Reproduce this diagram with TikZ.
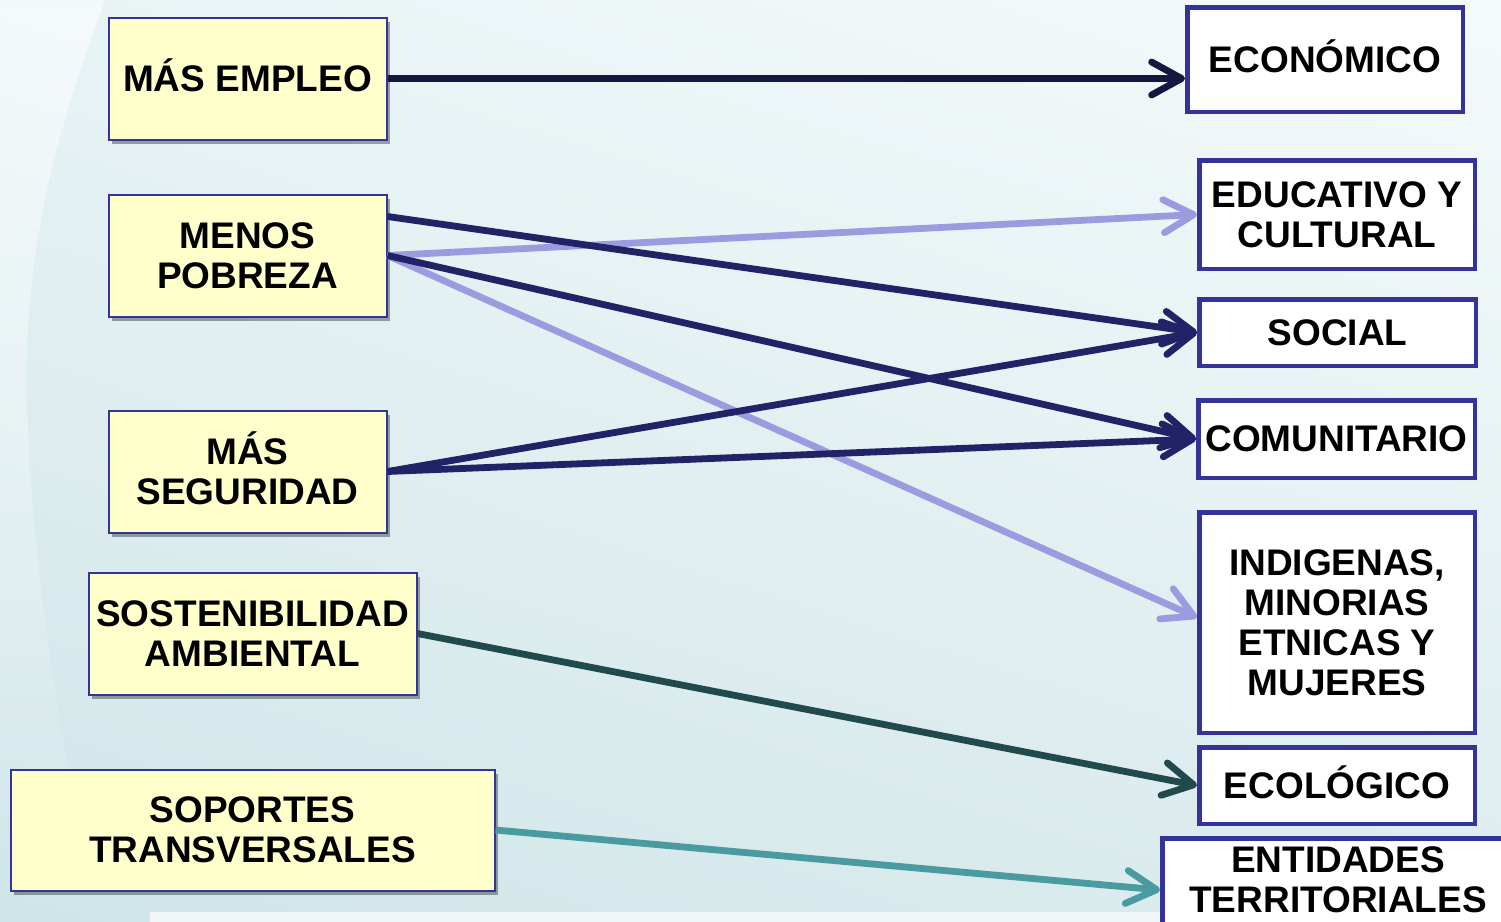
\documentclass[tikz,border=0pt]{standalone}
\usepackage{fontspec}
\setmainfont{Liberation Sans}
\usetikzlibrary{arrows.meta,shadows,calc,fadings,shadings}
\definecolor{bgUL}{HTML}{E8F3F5}
\definecolor{bgUR}{HTML}{F5FAFB}
\definecolor{bgLL}{HTML}{CFE5E8}
\definecolor{bgLR}{HTML}{DCECEE}
\definecolor{strip}{HTML}{F1F7F8}
\definecolor{boxfill}{HTML}{FFFFCC}
\definecolor{boxborder}{HTML}{333399}
\definecolor{navyD}{HTML}{16163F}
\definecolor{navy}{HTML}{222266}
\definecolor{lilac}{HTML}{9D9BDF}
\definecolor{tealD}{HTML}{214A4D}
\definecolor{tealL}{HTML}{4A9BA0}
\newcommand{\accfix}{\rule[-3pt]{0pt}{0pt}}
\begin{document}
\begin{tikzpicture}[x=0.5pt,y=-0.5pt,
  txt/.style={font=\fontsize{18.5}{20}\selectfont\bfseries, align=center, text=black, inner sep=0pt},
  srcbox/.style={txt, rectangle, draw=boxborder, line width=1pt, fill=boxfill,
    drop shadow={shadow xshift=1.6pt, shadow yshift=-2.2pt, fill=black, opacity=0.35}},
  dstbox/.style={txt, rectangle, draw=boxborder, line width=2.25pt, fill=white},
  link/.style={line width=3.4pt, -{Straight Barb[round,length=15pt,width=16.5pt]}},
]
\useasboundingbox (0,0) rectangle (1501,922);
\clip (0,0) rectangle (1501,922);
% background
\shade[upper left=bgUL, upper right=bgUR, lower left=bgLL, lower right=bgLR] (0,0) rectangle (1501,922);
\fill[white, opacity=0.55, path fading=south] (0,0) -- (105,0) .. controls (60,120) and (22,250) .. (27,400) .. controls (33,600) and (70,800) .. (105,922) -- (0,922) -- cycle;
\fill[strip] (150,912) rectangle (1501,922);

% source boxes
\node[srcbox, minimum width=139pt, minimum height=61pt] (emp) at (247.5,78.5) {MÁS EMPLEO\accfix};
\node[srcbox, minimum width=139pt, minimum height=61pt] (pob) at (247.5,255.5) {MENOS\\POBREZA};
\node[srcbox, minimum width=139pt, minimum height=61pt] (seg) at (247.5,471.5) {MÁS\\SEGURIDAD\accfix};
\node[srcbox, minimum width=164pt, minimum height=61pt] (sos) at (252.5,633.5) {SOSTENIBILIDAD\\AMBIENTAL};
\node[srcbox, minimum width=242pt, minimum height=60.5pt] (sop) at (252.5,830) {SOPORTES\\TRANSVERSALES};

% target boxes
\node[dstbox, minimum width=137.75pt, minimum height=52.25pt] (eco) at (1325,59.5) {ECONÓMICO\accfix};
\node[dstbox, minimum width=137.75pt, minimum height=54.25pt] (edu) at (1337,214.5) {EDUCATIVO Y\\CULTURAL};
\node[dstbox, minimum width=138.25pt, minimum height=33.25pt] (soc) at (1337.5,332.5) {SOCIAL};
\node[dstbox, minimum width=138.25pt, minimum height=38.75pt] (com) at (1336.5,439) {COMUNITARIO};
\node[dstbox, minimum width=137.75pt, minimum height=110.25pt] (ind) at (1337,622.5) {INDIGENAS,\\MINORIAS\\ETNICAS Y\\MUJERES};
\node[dstbox, minimum width=137.75pt, minimum height=38.25pt] (ecol) at (1337,785.5) {ECOLÓGICO\accfix};
\node[dstbox, minimum width=175.75pt, minimum height=51.75pt] (entbox) at (1338,890) {};
\node[txt] (entlabel) at (1338,880) {ENTIDADES\\TERRITORIALES};

% connectors
\draw[link, navyD] (emp.east) -- (emp.east -| eco.west);
\draw[link, lilac] (pob.east) -- (edu.west);
\draw[link, lilac] (pob.east) -- ($(ind.west)+(0,-5)$);
\draw[link, navy] ($(pob.east)+(0,-39)$) -- (soc.west);
\draw[link, navy] (pob.east) -- (com.west);
\draw[link, navy] (seg.east) -- (soc.west);
\draw[link, navy] (seg.east) -- (com.west);
\draw[link, tealD] (sos.east) -- (ecol.west);
\draw[link, tealL] (sop.east) -- (entbox.west);
\end{tikzpicture}
\end{document}
